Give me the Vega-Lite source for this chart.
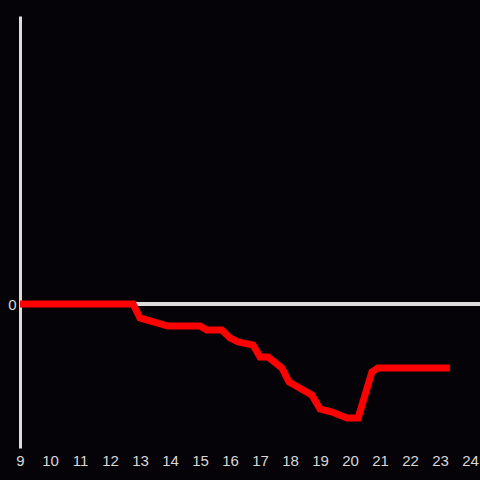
{
  "$schema": "https://vega.github.io/schema/vega-lite/v6.json",
  "width": 460,
  "height": 432,
  "autosize": {"type": "none"},
  "padding": {"left": 20, "top": 16, "right": 0, "bottom": 32},
  "background": "#050307",
  "config": {
    "view": {"stroke": null},
    "font": "Liberation Sans",
    "axis": {"grid": false, "labelColor": "#d8d8d8", "labelFontSize": 15, "labelFont": "Liberation Sans"}
  },
  "data": {"values": [
    {"h": 9.0, "v": 0},
    {"h": 12.77, "v": 0},
    {"h": 13.0, "v": -0.097},
    {"h": 13.93, "v": -0.153},
    {"h": 15.0, "v": -0.153},
    {"h": 15.23, "v": -0.181},
    {"h": 15.73, "v": -0.181},
    {"h": 16.0, "v": -0.236},
    {"h": 16.27, "v": -0.264},
    {"h": 16.77, "v": -0.285},
    {"h": 17.0, "v": -0.368},
    {"h": 17.27, "v": -0.368},
    {"h": 17.73, "v": -0.444},
    {"h": 17.97, "v": -0.542},
    {"h": 18.73, "v": -0.632},
    {"h": 19.0, "v": -0.729},
    {"h": 19.4, "v": -0.75},
    {"h": 19.9, "v": -0.792},
    {"h": 20.27, "v": -0.792},
    {"h": 20.73, "v": -0.472},
    {"h": 20.93, "v": -0.444},
    {"h": 23.33, "v": -0.444}
  ]},
  "layer": [
    {
      "mark": {"type": "rule", "color": "#dddddd", "strokeWidth": 3},
      "encoding": {"y": {"datum": 0, "type": "quantitative", "scale": {"domain": [-1, 2], "nice": false, "zero": false}}}
    },
    {
      "mark": {"type": "line", "color": "#ff0000", "strokeWidth": 7, "strokeJoin": "miter", "strokeCap": "butt"},
      "encoding": {
        "x": {"field": "h", "type": "quantitative",
              "scale": {"domain": [9, 24.333], "nice": false, "zero": false},
              "axis": {"values": [9,10,11,12,13,14,15,16,17,18,19,20,21,22,23,24], "format": "d", "domain": false, "ticks": false, "labelPadding": 5, "title": null, "labelFlush": false, "labelOverlap": false}},
        "y": {"field": "v", "type": "quantitative",
              "scale": {"domain": [-1, 2], "nice": false, "zero": false},
              "axis": {"values": [0], "format": "d", "domainColor": "#dddddd", "domainWidth": 3, "ticks": false, "labelPadding": 4, "title": null}}
      }
    }
  ]
}
